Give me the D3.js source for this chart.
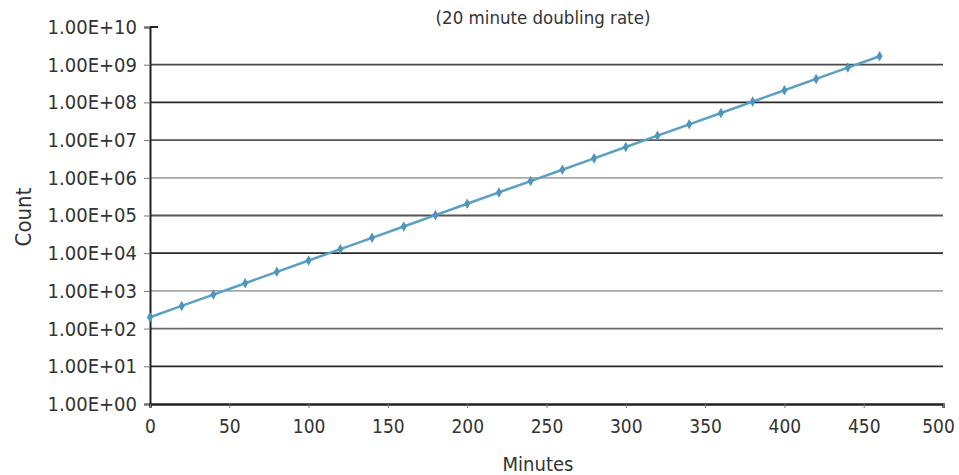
<!DOCTYPE html>
<html>
<head>
<meta charset="utf-8">
<script src="https://cdn.jsdelivr.net/npm/d3@7"></script>
<style>
body { margin: 0; background: #fff; }
svg text { font-family: "DejaVu Sans Condensed", "Liberation Sans Narrow", sans-serif; fill: #333; }
</style>
</head>
<body>
<svg id="chart" width="959" height="475"></svg>
<script>
var minutes = [0, 20, 40, 60, 80, 100, 120, 140, 160, 180, 200, 220, 240, 260, 280, 300, 320, 340, 360, 380, 400, 420, 440, 460];
var counts = [200, 400, 800, 1600, 3200, 6400, 12800, 25600, 51200, 102400, 204800, 409600, 819200, 1638400,
	3276800, 6553600, 13107200, 26214400, 52428800, 104857600, 209715200, 419430400, 838860800, 1677721600];
var xTicks = [0, 50, 100, 150, 200, 250, 300, 350, 400, 450, 500];
var yTicks = [1e0, 1e1, 1e2, 1e3, 1e4, 1e5, 1e6, 1e7, 1e8, 1e9, 1e10];
var yTickLabels = ['1.00E+00', '1.00E+01', '1.00E+02', '1.00E+03', '1.00E+04', '1.00E+05',
	'1.00E+06', '1.00E+07', '1.00E+08', '1.00E+09', '1.00E+10'];
var subtitle = '(20 minute doubling rate)';

// grid colours from 1e1 up to 1e9, the scan makes them look uneven
var gridColors = ['#2a2a2a', '#6a6a6a', '#a8a8a8', '#2a2a2a', '#555', '#a8a8a8', '#555', '#2a2a2a', '#4a4a4a'];

var svg = d3.select('#chart');
var x = d3.scaleLinear().domain([0, 500]).range([150, 943]);
var y = d3.scaleLog().domain([1, 1e10]).range([404, 27]);

// gridlines
svg.append('g').selectAll('line')
	.data(yTicks.slice(1, 10))
	.enter().append('line')
	.attr('x1', x(0)).attr('x2', x(500))
	.attr('y1', function(d){ return y(d); })
	.attr('y2', function(d){ return y(d); })
	.attr('stroke', function(d, i){ return gridColors[i]; })
	.attr('stroke-width', 1.8);

var yAxis = svg.append('g')
	.attr('transform', 'translate(' + x(0) + ',0)')
	.call(d3.axisLeft(y).tickValues(yTicks).tickFormat(function(d, i){ return yTickLabels[i]; }).tickSize(6).tickPadding(7));
yAxis.select('.domain').attr('stroke', '#222').attr('stroke-width', 2);
yAxis.selectAll('.tick line').attr('stroke', '#777');
yAxis.selectAll('text').style('font-size', '20px').attr('fill', '#333');
// little top tick that pokes into the plot
svg.append('line')
	.attr('x1', x(0)).attr('x2', x(0) + 8)
	.attr('y1', y(1e10)).attr('y2', y(1e10))
	.attr('stroke', '#222').attr('stroke-width', 2);

var xAxis = svg.append('g')
	.attr('transform', 'translate(0,' + y(1) + ')')
	.call(d3.axisBottom(x).tickValues(xTicks).tickSize(4).tickPadding(12).tickFormat(d3.format('d')));
xAxis.select('.domain').attr('stroke', '#222').attr('stroke-width', 2.4);
xAxis.selectAll('.tick line').attr('stroke', '#777');
xAxis.selectAll('text').style('font-size', '19px').attr('fill', '#333');
// keep the last label inside the page
xAxis.selectAll('text').filter(function(d){ return d == 500; }).attr('dx', -5);

// series
var line = d3.line()
	.x(function(d, i){ return x(minutes[i]); })
	.y(function(d){ return y(d); });
svg.append('path')
	.datum(counts)
	.attr('d', line)
	.attr('fill', 'none')
	.attr('stroke', '#5a9fc4')
	.attr('stroke-width', 2.5);

svg.append('g').selectAll('path')
	.data(counts)
	.enter().append('path')
	.attr('d', d3.symbol().type(d3.symbolDiamond).size(32))
	.attr('transform', function(d, i){ return 'translate(' + x(minutes[i]) + ',' + y(d) + ')'; })
	.attr('fill', '#4f95bd');

// labels
svg.append('text')
	.attr('x', 543).attr('y', 24)
	.attr('text-anchor', 'middle')
	.style('font-size', '18.5px')
	.text(subtitle);

svg.append('text')
	.attr('x', 538).attr('y', 471)
	.attr('text-anchor', 'middle')
	.style('font-size', '20px')
	.text('Minutes');

svg.append('text')
	.attr('transform', 'translate(31,' + 217 + ') rotate(-90)')
	.attr('text-anchor', 'middle')
	.style('font-size', '22px')
	.text('Count');
</script>
</body>
</html>
